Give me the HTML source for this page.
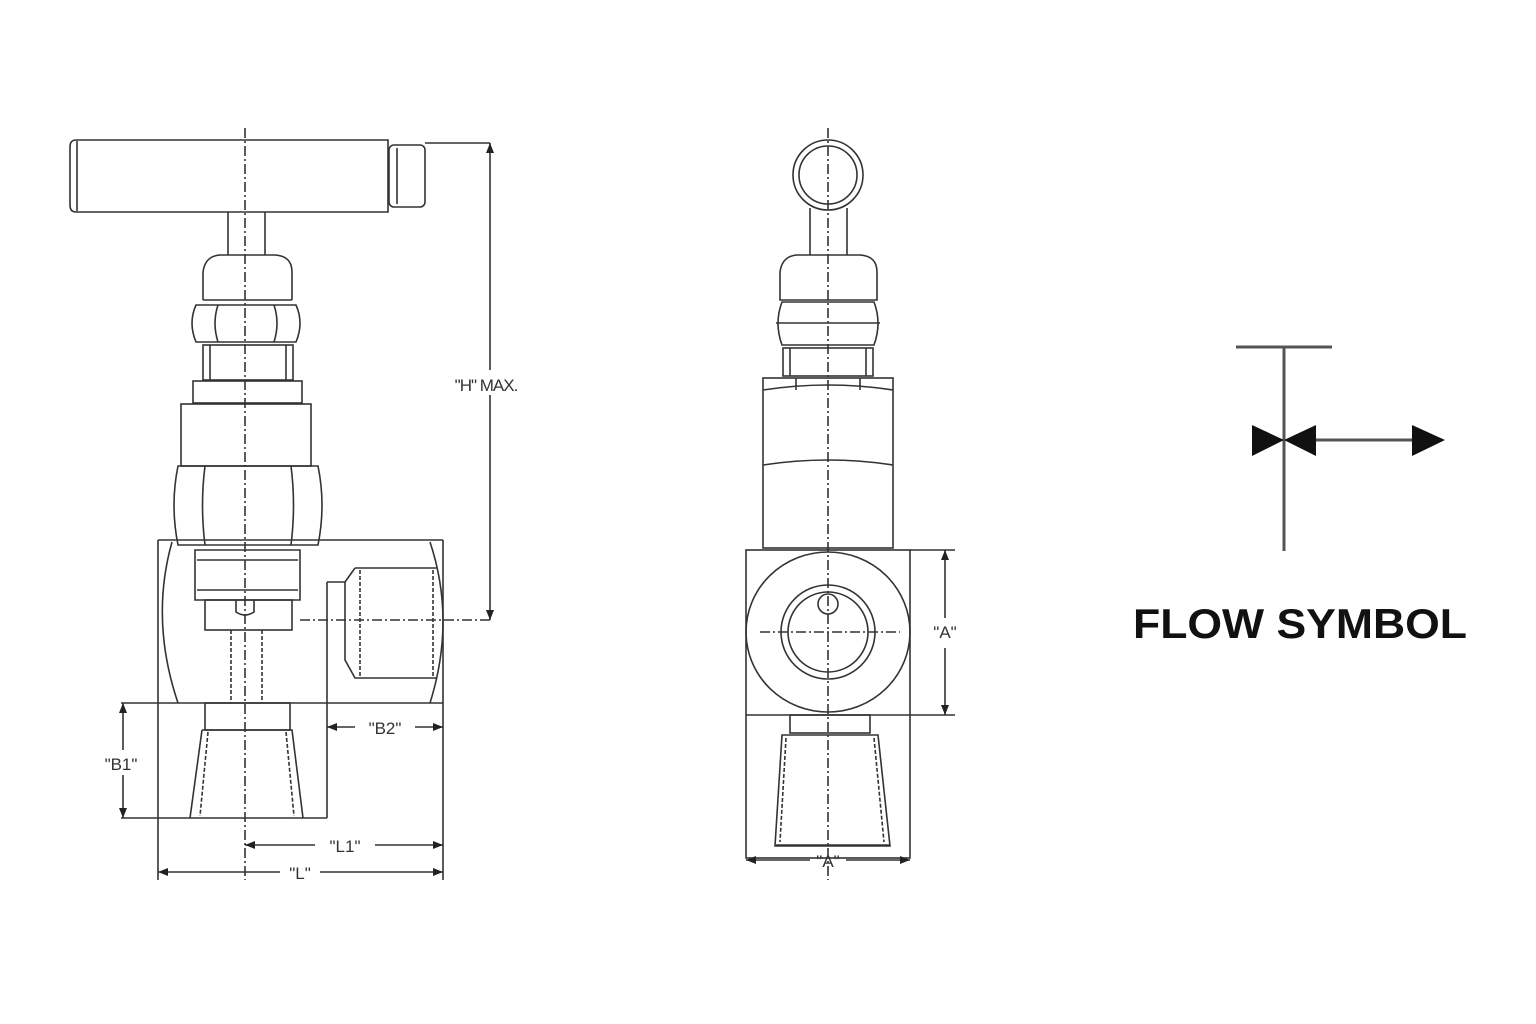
<!DOCTYPE html>
<html><head><meta charset="utf-8"><style>
html,body{margin:0;padding:0;background:#fff;}
svg{display:block;}
text{font-family:"Liberation Sans",Arial,sans-serif;}
</style></head><body>
<svg width="1536" height="1024" viewBox="0 0 1536 1024" xmlns="http://www.w3.org/2000/svg">
<defs>
<marker id="ar" markerWidth="10" markerHeight="8" refX="10" refY="4" orient="auto" markerUnits="userSpaceOnUse"><path d="M0,0 L10,4 L0,8z" fill="#222"/></marker>
<marker id="al" markerWidth="10" markerHeight="8" refX="0" refY="4" orient="auto" markerUnits="userSpaceOnUse"><path d="M10,0 L0,4 L10,8z" fill="#222"/></marker>
</defs>
<rect width="1536" height="1024" fill="#fff"/>
<g fill="none" stroke="#333" stroke-width="1.6">
<!-- LEFT VALVE -->
<path d="M76,140 L388,140 L388,212 L76,212 Q70,212 70,205 L70,147 Q70,140 76,140 Z"/>
<line x1="77" y1="141" x2="77" y2="211"/>
<rect x="389" y="145" width="36" height="62" rx="5"/>
<line x1="397" y1="148" x2="397" y2="204"/>
<line x1="228" y1="212" x2="228" y2="255"/><line x1="265" y1="212" x2="265" y2="255"/>
<path d="M203,300 L203,272 Q205,256 220,255 L275,255 Q292,256 292,272 L292,300"/>
<line x1="203" y1="300" x2="292" y2="300"/>
<path d="M196,305 L296,305 Q304,323 296,342 L196,342 Q188,323 196,305Z"/>
<path d="M218,305 Q212,323 218,342 M274,305 Q280,323 274,342"/>
<rect x="203" y="345" width="90" height="35"/>
<line x1="210" y1="345" x2="210" y2="380"/><line x1="286" y1="345" x2="286" y2="380"/>
<rect x="193" y="381" width="109" height="22"/>
<rect x="181" y="404" width="130" height="62"/>
<path d="M178,466 L318,466 Q326,505 318,545 L178,545 Q170,505 178,466Z"/>
<path d="M205,466 Q200,505 205,545 M291,466 Q296,505 291,545"/>
<!-- body -->
<line x1="158" y1="540" x2="443" y2="540"/>
<line x1="158" y1="540" x2="158" y2="880"/>
<line x1="443" y1="540" x2="443" y2="880"/>
<path d="M172,542 Q150,620 178,703"/>
<path d="M430,542 Q456,620 430,703"/>
<line x1="121" y1="703" x2="443" y2="703"/>
<line x1="121" y1="818" x2="327" y2="818"/>
<line x1="327" y1="582" x2="327" y2="818"/>
<path d="M195,550 L300,550 L300,600 L195,600Z"/>
<line x1="197" y1="560" x2="298" y2="560"/><line x1="197" y1="590" x2="298" y2="590"/>
<rect x="205" y="600" width="87" height="30"/>
<path d="M236,600 L236,612 Q245,618 254,612 L254,600"/>
<line x1="231" y1="630" x2="231" y2="703" stroke-dasharray="4,2"/><line x1="262" y1="630" x2="262" y2="703" stroke-dasharray="4,2"/>
<path d="M327,582 L345,582 L345,620 M355,568 L437,568 M355,568 L345,582 M345,620 L345,660 L355,678 L437,678"/>
<line x1="360" y1="570" x2="360" y2="676" stroke-dasharray="4,2"/>
<line x1="433" y1="570" x2="433" y2="676" stroke-dasharray="4,2"/>
<rect x="205" y="703" width="85" height="27"/>
<path d="M202,730 L292,730 L303,818 M202,730 L190,818"/>
<line x1="208" y1="732" x2="200" y2="816" stroke-dasharray="4,2"/><line x1="286" y1="732" x2="294" y2="816" stroke-dasharray="4,2"/>
<line x1="245" y1="128" x2="245" y2="880" stroke-dasharray="10,3,2,3"/>
<line x1="300" y1="620" x2="490" y2="620" stroke-dasharray="10,3,2,3"/>
<!-- dims left -->
<line x1="425" y1="143" x2="490" y2="143"/>
<line x1="490" y1="143" x2="490" y2="370" marker-start="url(#al)"/>
<line x1="490" y1="395" x2="490" y2="620" marker-end="url(#ar)"/>
<line x1="123" y1="703" x2="123" y2="750" marker-start="url(#al)"/>
<line x1="123" y1="775" x2="123" y2="818" marker-end="url(#ar)"/>
<line x1="327" y1="727" x2="355" y2="727" marker-start="url(#al)"/>
<line x1="415" y1="727" x2="443" y2="727" marker-end="url(#ar)"/>
<line x1="245" y1="845" x2="315" y2="845" marker-start="url(#al)"/>
<line x1="375" y1="845" x2="443" y2="845" marker-end="url(#ar)"/>
<line x1="158" y1="872" x2="280" y2="872" marker-start="url(#al)"/>
<line x1="320" y1="872" x2="443" y2="872" marker-end="url(#ar)"/>
<!-- MIDDLE VALVE -->
<circle cx="828" cy="175" r="35"/><circle cx="828" cy="175" r="29"/>
<line x1="810" y1="208" x2="810" y2="255"/><line x1="847" y1="208" x2="847" y2="255"/>
<path d="M780,300 L780,272 Q782,256 797,255 L860,255 Q877,256 877,272 L877,300 Z"/>
<path d="M782,302 L874,302 Q882,323 874,345 L782,345 Q774,323 782,302Z"/>
<line x1="776" y1="323" x2="880" y2="323"/>
<rect x="783" y="348" width="90" height="28"/>
<line x1="790" y1="348" x2="790" y2="376"/><line x1="866" y1="348" x2="866" y2="376"/>
<rect x="763" y="378" width="130" height="170"/>
<path d="M763,465 Q828,455 893,465"/><path d="M763,390 Q828,380 893,390"/>
<line x1="796" y1="378" x2="796" y2="390"/><line x1="860" y1="378" x2="860" y2="390"/>
<rect x="746" y="550" width="164" height="308"/>
<line x1="746" y1="715" x2="910" y2="715"/>
<ellipse cx="828" cy="632" rx="82" ry="80"/>
<circle cx="828" cy="632" r="47"/><circle cx="828" cy="632" r="40"/>
<circle cx="828" cy="604" r="10"/>
<line x1="760" y1="632" x2="900" y2="632" stroke-dasharray="10,3,2,3"/>
<rect x="790" y="715" width="80" height="18"/>
<path d="M782,735 L878,735 L890,846 L775,846 Z"/>
<line x1="786" y1="738" x2="780" y2="842" stroke-dasharray="4,2"/><line x1="874" y1="738" x2="884" y2="842" stroke-dasharray="4,2"/>
<line x1="776" y1="845" x2="890" y2="845"/>
<line x1="828" y1="128" x2="828" y2="880" stroke-dasharray="10,3,2,3"/>
<line x1="910" y1="550" x2="955" y2="550"/><line x1="910" y1="715" x2="955" y2="715"/>
<line x1="945" y1="550" x2="945" y2="618" marker-start="url(#al)"/>
<line x1="945" y1="648" x2="945" y2="715" marker-end="url(#ar)"/>
<line x1="746" y1="860" x2="810" y2="860" marker-start="url(#al)"/>
<line x1="846" y1="860" x2="910" y2="860" marker-end="url(#ar)"/>
</g>
<g fill="#333" font-size="17" text-anchor="middle">
<text x="486" y="391" letter-spacing="-1">"H" MAX.</text>
<text x="121" y="770">"B1"</text>
<text x="385" y="734">"B2"</text>
<text x="345" y="852">"L1"</text>
<text x="300" y="879">"L"</text>
<text x="945" y="638">"A"</text>
<text x="828" y="867">"A"</text>
</g>
<!-- FLOW SYMBOL -->
<g stroke="#555" stroke-width="3" fill="none">
<line x1="1236" y1="347" x2="1332" y2="347"/>
<line x1="1284" y1="347" x2="1284" y2="551"/>
<line x1="1300" y1="440" x2="1420" y2="440"/>
</g>
<g fill="#111">
<path d="M1252,425 L1284,440 L1252,456Z"/>
<path d="M1316,425 L1284,440 L1316,456Z"/>
<path d="M1412,425 L1445,440 L1412,456Z"/>
</g>
<text x="1133" y="638" font-size="42" font-weight="bold" fill="#111" textLength="334" lengthAdjust="spacingAndGlyphs">FLOW SYMBOL</text>
</svg>
</body></html>
